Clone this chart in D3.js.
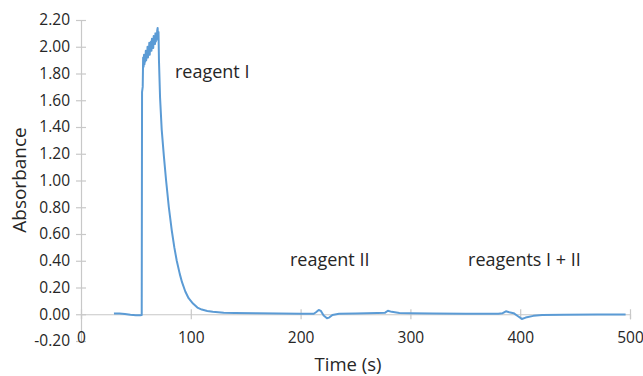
<!DOCTYPE html>
<html>
<head>
<meta charset="utf-8">
<script src="https://cdn.jsdelivr.net/npm/d3@7"></script>
<style>
  html, body { margin: 0; padding: 0; background: #fff; }
  svg { display: block; }
  text { font-family: "Open Sans", "DejaVu Sans", sans-serif; }
</style>
</head>
<body>
<svg id="chart" width="643" height="376"></svg>
<script>
// ---- Data ----
const timeValues = [
  30, 35, 40, 45, 50, 54, 55.3, 55.6, 56.2, 56.6,
  57.0, 57.4, 57.8, 58.2, 58.6, 59.0, 59.4, 59.8, 60.2, 60.6,
  61.0, 61.4, 61.8, 62.2, 62.6, 63.0, 63.4, 63.8, 64.2, 64.6,
  65.0, 65.4, 65.8, 66.2, 66.6, 67.0, 67.4, 67.8, 68.2, 68.6,
  69.0, 69.4, 69.8, 70.2, 70.6, 71.0, 72.0, 73.5, 75.5, 77.5,
  80.0, 82.6, 85.0, 87.2, 90.0, 92.0, 95.0, 98.0, 102, 106,
  110, 115, 120, 130, 140, 160, 180, 200, 212, 214,
  216.5, 218.5, 221, 224, 226, 229, 235, 250, 270, 277,
  279.5, 283, 290, 300, 320, 350, 380, 384, 387, 390,
  394, 398, 401.5, 405, 412, 420, 440, 470, 496
];
const absorbanceValues = [
  0.005, 0.006, 0.002, -0.004, -0.008, -0.008, -0.006, 1.66, 1.70, 1.92,
  1.85, 1.94, 1.87, 1.93, 1.89, 1.97, 1.90, 1.95, 1.93, 2.00,
  1.92, 1.98, 1.96, 2.03, 1.94, 2.01, 1.99, 2.04, 1.97, 2.06,
  2.01, 2.05, 1.99, 2.08, 2.03, 2.07, 2.02, 2.10, 2.04, 2.09,
  2.07, 2.12, 2.14, 2.05, 2.11, 1.90, 1.62, 1.38, 1.18, 1.00,
  0.80, 0.63, 0.50, 0.40, 0.30, 0.24, 0.17, 0.12, 0.08, 0.05,
  0.035, 0.025, 0.018, 0.012, 0.010, 0.008, 0.006, 0.004, 0.004, 0.015,
  0.032, 0.025, -0.01, -0.03, -0.025, -0.005, 0.003, 0.006, 0.010, 0.012,
  0.026, 0.018, 0.010, 0.008, 0.006, 0.004, 0.003, 0.008, 0.022, 0.015,
  0.008, -0.015, -0.035, -0.025, -0.012, -0.006, -0.003, -0.002, -0.002
];
const xTickValues = [0, 100, 200, 300, 400, 500];
const yTickValues = [-0.2, 0, 0.2, 0.4, 0.6, 0.8, 1.0, 1.2, 1.4, 1.6, 1.8, 2.0, 2.2];
const annotationLabels = ["reagent I", "reagent II", "reagents I + II"];
const annotationTimes = [85.6, 190.3, 352.5];
const annotationValues = [1.77, 0.36, 0.36];
const xTitle = "Time (s)";
const yTitle = "Absorbance";

// ---- Drawing ----
const svg = d3.select("#chart");
const axisColor = "#c8c8c8";
const textColor = "#262626";
const lineColor = "#5b9bd5";

const x = d3.scaleLinear().domain([0, 500]).range([81, 630]);
const y = d3.scaleLinear().domain([-0.2, 2.2]).range([341, 20]);

// Y axis
const yAxis = d3.axisLeft(y).tickValues(yTickValues).tickFormat(d3.format(".2f")).tickSize(5).tickPadding(6);
const gy = svg.append("g").attr("transform", `translate(${x(0)},0)`).call(yAxis);
gy.select(".domain").attr("stroke", axisColor).attr("stroke-width", 1.2);
gy.selectAll(".tick line").attr("stroke", axisColor).attr("x1", 5).attr("x2", -5).attr("stroke-width", 1.2);
gy.selectAll(".tick text").attr("fill", textColor).style("font-size", "15.5px")
  .text(d => d < 0 ? "-" + d3.format(".2f")(-d) : d3.format(".2f")(d));

// X axis at y = 0
const xAxis = d3.axisBottom(x).tickValues(xTickValues).tickFormat(d3.format("d")).tickSize(5).tickPadding(0);
const gx = svg.append("g").attr("transform", `translate(0,${y(0)})`).call(xAxis);
gx.select(".domain").attr("stroke", axisColor).attr("stroke-width", 1.2);
gx.selectAll(".tick line").attr("stroke", axisColor).attr("y1", -5).attr("y2", 5).attr("stroke-width", 1.2);
gx.selectAll(".tick text").attr("fill", textColor).style("font-size", "15.5px")
  .attr("y", y(-0.2) - y(0) - 9).attr("dy", "0.71em");

// Line
const line = d3.line().x((d, i) => x(timeValues[i])).y(d => y(d));
svg.append("path")
  .datum(absorbanceValues)
  .attr("fill", "none")
  .attr("stroke", lineColor)
  .attr("stroke-width", 2)
  .attr("stroke-linejoin", "round")
  .attr("d", line);

// Annotations
svg.selectAll("text.annot")
  .data(annotationLabels)
  .enter().append("text")
  .attr("class", "annot")
  .attr("x", (d, i) => x(annotationTimes[i]))
  .attr("y", (d, i) => y(annotationValues[i]))
  .attr("fill", textColor)
  .style("font-size", "18px")
  .text(d => d);

// Titles
svg.append("text")
  .attr("x", 348).attr("y", 371)
  .attr("text-anchor", "middle")
  .attr("fill", textColor)
  .style("font-size", "18.5px")
  .text(xTitle);

svg.append("text")
  .attr("transform", "translate(26,180) rotate(-90)")
  .attr("text-anchor", "middle")
  .attr("fill", textColor)
  .style("font-size", "19px")
  .text(yTitle);
</script>
</body>
</html>
